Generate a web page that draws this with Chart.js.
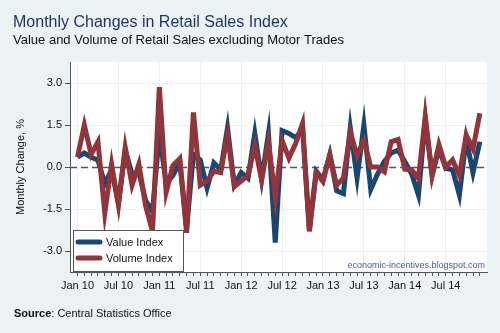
<!DOCTYPE html>
<html>
<head>
<meta charset="utf-8">
<script src="https://cdn.jsdelivr.net/npm/chart.js@4.4.1/dist/chart.umd.min.js"></script>
<style>
  html, body { margin: 0; padding: 0; background: #eaf2f3; }
  #wrap { width: 500px; height: 333px; }
</style>
</head>
<body>
<div id="wrap"><canvas id="retailChart" width="500" height="333"></canvas></div>
<script>
// Months Jan 2010 - Dec 2014
const months = [
  'Jan 10', 'Feb 10', 'Mar 10', 'Apr 10', 'May 10', 'Jun 10', 'Jul 10', 'Aug 10', 'Sep 10', 'Oct 10', 'Nov 10', 'Dec 10',
  'Jan 11', 'Feb 11', 'Mar 11', 'Apr 11', 'May 11', 'Jun 11', 'Jul 11', 'Aug 11', 'Sep 11', 'Oct 11', 'Nov 11', 'Dec 11',
  'Jan 12', 'Feb 12', 'Mar 12', 'Apr 12', 'May 12', 'Jun 12', 'Jul 12', 'Aug 12', 'Sep 12', 'Oct 12', 'Nov 12', 'Dec 12',
  'Jan 13', 'Feb 13', 'Mar 13', 'Apr 13', 'May 13', 'Jun 13', 'Jul 13', 'Aug 13', 'Sep 13', 'Oct 13', 'Nov 13', 'Dec 13',
  'Jan 14', 'Feb 14', 'Mar 14', 'Apr 14', 'May 14', 'Jun 14', 'Jul 14', 'Aug 14', 'Sep 14', 'Oct 14', 'Nov 14', 'Dec 14'
];

// Monthly % change
const valueIndex = [
  0.35, 0.5, 0.35, 0.25, -0.6, -0.1, -1.3, 0.6, -0.25, -0.2, -1.2, -1.6,
  1.2, -0.6, -0.3, 0.2, -2.2, 0.45, 0.25, -0.75, 0.15, -0.1, 1.4, -0.65,
  -0.2, -0.4, 1.2, -0.45, 1.2, -2.7, 1.3, 1.2, 1.05, 1.35, -2.25, -0.15,
  -0.45, 0.45, -0.85, -0.95, 1.4, -0.4, 1.5, -0.8, -0.25, 0.2, 0.5, 0.6,
  0.2, -0.25, -1.0, 1.7, -0.3, 0.65, -0.05, -0.1, -1.0, 1.0, -0.2, 0.9
];
const volumeIndex = [
  0.35, 1.5, 0.45, 0.9, -1.65, 0.1, -1.35, 0.7, -0.65, 0.1, -1.4, -2.3,
  2.85, -0.9, 0.05, 0.3, -2.35, 1.95, -0.65, -0.5, -0.15, -0.2, 1.15, -0.7,
  -0.5, -0.3, 0.75, -0.45, 0.9, -1.1, 0.95, 0.32, 0.85, 1.55, -2.3, -0.2,
  -0.52, 0.43, -0.65, -0.4, 1.25, 0.4, 0.95, 0.0, 0.0, -0.17, 0.9, 0.98,
  -0.08, -0.1, -0.4, 1.8, -0.3, 0.8, 0.0, 0.25, -0.3, 1.15, 0.65, 1.92
];

const yTicks = [-3, -1.5, 0, 1.5, 3];

const FONT = 'Arial, "Liberation Sans", sans-serif';
const BG = '#eaf2f3';

// Page background + white plot region
const backdrop = {
  id: 'backdrop',
  beforeDraw(chart) {
    const { ctx, chartArea: a } = chart;
    ctx.save();
    ctx.fillStyle = BG;
    ctx.fillRect(0, 0, chart.width, chart.height);
    ctx.fillStyle = '#ffffff';
    ctx.fillRect(a.left, a.top, a.right - a.left, a.bottom - a.top);
    ctx.restore();
  }
};

// Dashed line at zero, under the series
const zeroLine = {
  id: 'zeroLine',
  beforeDatasetsDraw(chart) {
    const { ctx, chartArea: a, scales } = chart;
    const y = Math.round(scales.y.getPixelForValue(0)) + 0.5;
    ctx.save();
    ctx.strokeStyle = '#555555';
    ctx.lineWidth = 1.5;
    ctx.setLineDash([7, 4]);
    ctx.beginPath();
    ctx.moveTo(a.left, y);
    ctx.lineTo(a.right, y);
    ctx.stroke();
    ctx.restore();
  }
};

// Boxed legend in the lower left + blog watermark
const boxLegend = {
  id: 'boxLegend',
  afterDatasetsDraw(chart) {
    const { ctx, chartArea: a } = chart;
    const x0 = a.left + 3, y0 = a.bottom - 42, w = 110, h = 41;
    ctx.save();
    ctx.fillStyle = '#ffffff';
    ctx.fillRect(x0, y0, w, h);
    ctx.strokeStyle = '#555555';
    ctx.lineWidth = 1;
    ctx.strokeRect(x0 + 0.5, y0 + 0.5, w, h);
    chart.data.datasets.forEach((ds, i) => {
      const y = y0 + 12 + i * 16;
      ctx.strokeStyle = ds.borderColor;
      ctx.lineWidth = 5;
      ctx.lineCap = 'round';
      ctx.beginPath();
      ctx.moveTo(x0 + 5, y);
      ctx.lineTo(x0 + 27, y);
      ctx.stroke();
      ctx.fillStyle = '#111111';
      ctx.font = '11px ' + FONT;
      ctx.textBaseline = 'middle';
      ctx.fillText(ds.label, x0 + 33, y + 0.5);
    });
    ctx.fillStyle = '#44618f';
    ctx.font = '9px ' + FONT;
    ctx.textAlign = 'right';
    ctx.textBaseline = 'alphabetic';
    ctx.fillText('economic-incentives.blogspot.com', a.right - 2, a.bottom - 4);
    ctx.restore();
  }
};

// Title, subtitle and source note
const headings = {
  id: 'headings',
  afterDraw(chart) {
    const { ctx } = chart;
    ctx.save();
    ctx.textBaseline = 'alphabetic';
    ctx.fillStyle = '#1e325c';
    ctx.font = '16px ' + FONT;
    ctx.fillText('Monthly Changes in Retail Sales Index', 13, 27);
    ctx.fillStyle = '#111111';
    ctx.font = '13px ' + FONT;
    ctx.fillText('Value and Volume of Retail Sales excluding Motor Trades', 13, 43.5);
    ctx.font = 'bold 11px ' + FONT;
    ctx.fillText('Source', 14, 317);
    const sw = ctx.measureText('Source').width;
    ctx.font = '11px ' + FONT;
    ctx.fillText(': Central Statistics Office', 14 + sw, 317);
    ctx.restore();
  }
};

const ctx = document.getElementById('retailChart').getContext('2d');

new Chart(ctx, {
  type: 'line',
  data: {
    datasets: [
      {
        label: 'Value Index',
        data: valueIndex.map((v, i) => ({ x: i, y: v })),
        borderColor: '#1a476f',
        borderWidth: 5,
        pointRadius: 0,
        tension: 0,
        order: 2
      },
      {
        label: 'Volume Index',
        data: volumeIndex.map((v, i) => ({ x: i, y: v })),
        borderColor: '#90353b',
        borderWidth: 5,
        pointRadius: 0,
        tension: 0,
        order: 1
      }
    ]
  },
  options: {
    responsive: false,
    animation: false,
    devicePixelRatio: 1,
    layout: { padding: { top: 62, right: 13, left: 0, bottom: 0 } },
    plugins: { legend: { display: false }, tooltip: { enabled: false } },
    scales: {
      x: {
        type: 'linear',
        min: -1.1,
        max: 60.05,
        afterBuildTicks: s => { s.ticks = months.map((m, i) => ({ value: i })); },
        afterFit: s => { s.height = 61; },
        grid: {
          color: c => (c.tick && c.tick.value % 6 === 0) ? BG : 'rgba(0,0,0,0)',
          tickColor: '#555555',
          tickLength: 4
        },
        border: { color: '#555555' },
        ticks: {
          autoSkip: false,
          maxRotation: 0,
          padding: 3,
          color: '#111111',
          font: { family: FONT, size: 11 },
          callback: v => (v % 6 === 0 ? months[v] : '')
        }
      },
      y: {
        min: -3.75,
        max: 3.75,
        afterBuildTicks: s => { s.ticks = yTicks.map(v => ({ value: v })); },
        afterFit: s => { s.width = 70; },
        grid: { color: BG, tickColor: '#555555', tickLength: 5 },
        border: { color: '#555555' },
        ticks: {
          padding: 3,
          color: '#111111',
          font: { family: FONT, size: 11 },
          callback: v => v.toFixed(1)
        },
        title: {
          display: true,
          text: 'Monthly Change, %',
          color: '#111111',
          font: { family: FONT, size: 11 },
          padding: { top: 14, bottom: 0 }
        }
      }
    }
  },
  plugins: [backdrop, zeroLine, boxLegend, headings]
});
</script>
</body>
</html>
